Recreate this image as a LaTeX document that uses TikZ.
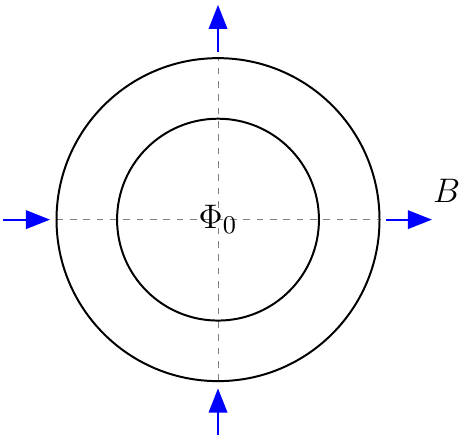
\documentclass[tikz,border=0pt]{standalone}
\usepackage{tikz}
\usepackage{xcolor}
\usetikzlibrary{arrows.meta}

\begin{document}
\begin{tikzpicture}[
    flux/.style={blue, line width=0.75pt, -{Triangle[length=8.5pt, width=6.5pt]}},
    axis/.style={gray, line width=0.35pt, dash pattern=on 2.35pt off 2.35pt},
    font=\fontsize{13pt}{15pt}\selectfont]
  \useasboundingbox (-2.70,-2.73) rectangle (3.195,2.72);

  % Axes
  \coordinate (W) at (-2,0);
  \coordinate (E) at (2,0);
  \coordinate (N) at (0,2);
  \coordinate (S) at (0,-2);
  \draw[axis] (W) -- (E);
  \draw[axis] (S) -- (N);

  % Rings
  \draw[line width=0.7pt] (0,0) circle (2);
  \draw[line width=0.7pt] (0,0) circle (1.25);
  \node (phi) at (0,0) {$\Phi_0$};

  % Field
  \coordinate (inL) at (-2.66,0);
  \coordinate (endL) at (-2.08,0);
  \coordinate (inB) at (0,-2.67);
  \coordinate (endB) at (0,-2.09);
  \coordinate (outR) at (2.08,0);
  \coordinate (endR) at (2.65,0);
  \coordinate (outT) at (0,2.08);
  \coordinate (endT) at (0,2.66);
  \draw[flux] (inL) -- (endL);
  \draw[flux] (inB) -- (endB);
  \draw[flux] (outR) -- (endR);
  \draw[flux] (outT) -- (endT);
  \node (B) at (2.83,0.36) {$B$};
\end{tikzpicture}
\end{document}
